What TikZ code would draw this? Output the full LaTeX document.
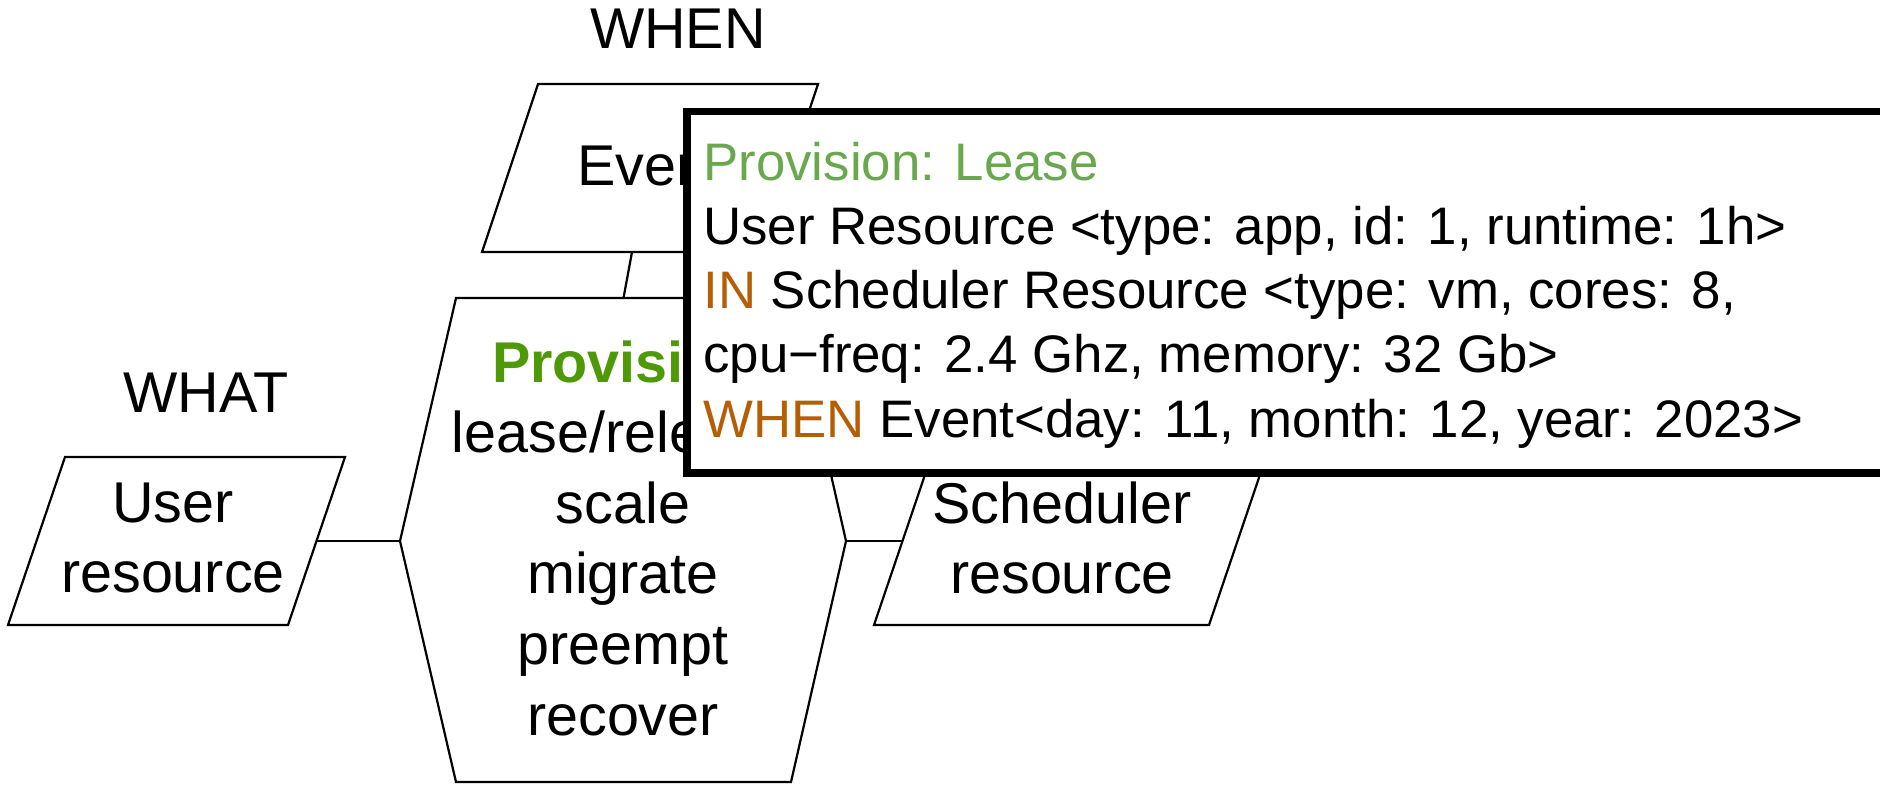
\documentclass[tikz,border=0pt]{standalone}
\usepackage{fontspec}
\setmainfont{Liberation Sans}
\definecolor{leasegreen}{RGB}{106,168,79}
\definecolor{opgreen}{RGB}{78,154,6}
\definecolor{kwbrown}{RGB}{180,95,6}
\begin{document}
\begin{tikzpicture}[x=0.5pt,y=-0.5pt,
  shapeline/.style={draw=black,line width=1.1pt,line join=miter},
  link/.style={draw=black,line width=1.1pt},
  heading/.style={font=\fontsize{28.75}{35}\selectfont,inner sep=0pt,anchor=base},
  shapetext/.style={font=\fontsize{28.75}{35}\selectfont,align=center,inner sep=0pt},
  optext/.style={font=\fontsize{28.75}{35.3}\selectfont,align=center,inner sep=0pt},
  note/.style={draw=black,fill=white,line width=3.75pt},
  noteline/.style={font=\fontsize{26.4}{32}\selectfont,inner sep=0pt,anchor=base west},
]
\clip (0,0) rectangle (1880,784);
\fill[white] (0,0) rectangle (1880,784);

% --- WHAT: user resource ---
\draw[shapeline] (65,457) -- (345,457) -- (288,625) -- (8,625) -- cycle;
\node[shapetext] (user) at (173,537.5) {User\\resource};
\node[heading] (whatlbl) at (206,412) {WHAT};
\coordinate (user-e) at (316.5,541);

% --- WHEN: event ---
\draw[shapeline] (538,84) -- (818,84) -- (762,252) -- (482,252) -- cycle;
\node[heading] (event) at (651,185) {Event};
\node[heading] (whenlbl) at (678,48) {WHEN};
\coordinate (event-s) at (632,252);

% --- provisioning operations ---
\draw[shapeline] (456,298) -- (791,298) -- (846,541) -- (791,782) -- (456,782) -- (400,541) -- cycle;
\node[optext] (ops) at (623,538)
  {\textbf{\color{opgreen}Provision}\\lease/release\\scale\\migrate\\preempt\\recover};
\coordinate (ops-n) at (623.5,298);
\coordinate (ops-w) at (400,541);
\coordinate (ops-e) at (846,541);

% --- IN: scheduler resource ---
\draw[shapeline] (931,457) -- (1266,457) -- (1209,625) -- (874,625) -- cycle;
\node[shapetext] (sched) at (1062,538) {Scheduler\\resource};
\coordinate (sched-w) at (902,541);

% --- connectors ---
\draw[link] (user-e) -- (ops-w);
\draw[link] (ops-e) -- (sched-w);
\draw[link] (event-s) -- (ops-n);

% --- example statement ---
\draw[note] (687,111.5) rectangle (1910,473);
\node[noteline,text=leasegreen] (l1) at (703,180) {Provision: Lease};
\node[noteline] (l2) at (703,244) {User Resource <type: app, id: 1, runtime: 1h>};
\node[noteline] (l3) at (703,308) {\textcolor{kwbrown}{IN} Scheduler Resource <type: vm, cores: 8,};
\node[noteline] (l4) at (703,372) {cpu\textminus freq: 2.4 Ghz, memory: 32 Gb>};
\node[noteline] (l5) at (703,437) {\textcolor{kwbrown}{WHEN} Event<day: 11, month: 12, year: 2023>};
\end{tikzpicture}
\end{document}
